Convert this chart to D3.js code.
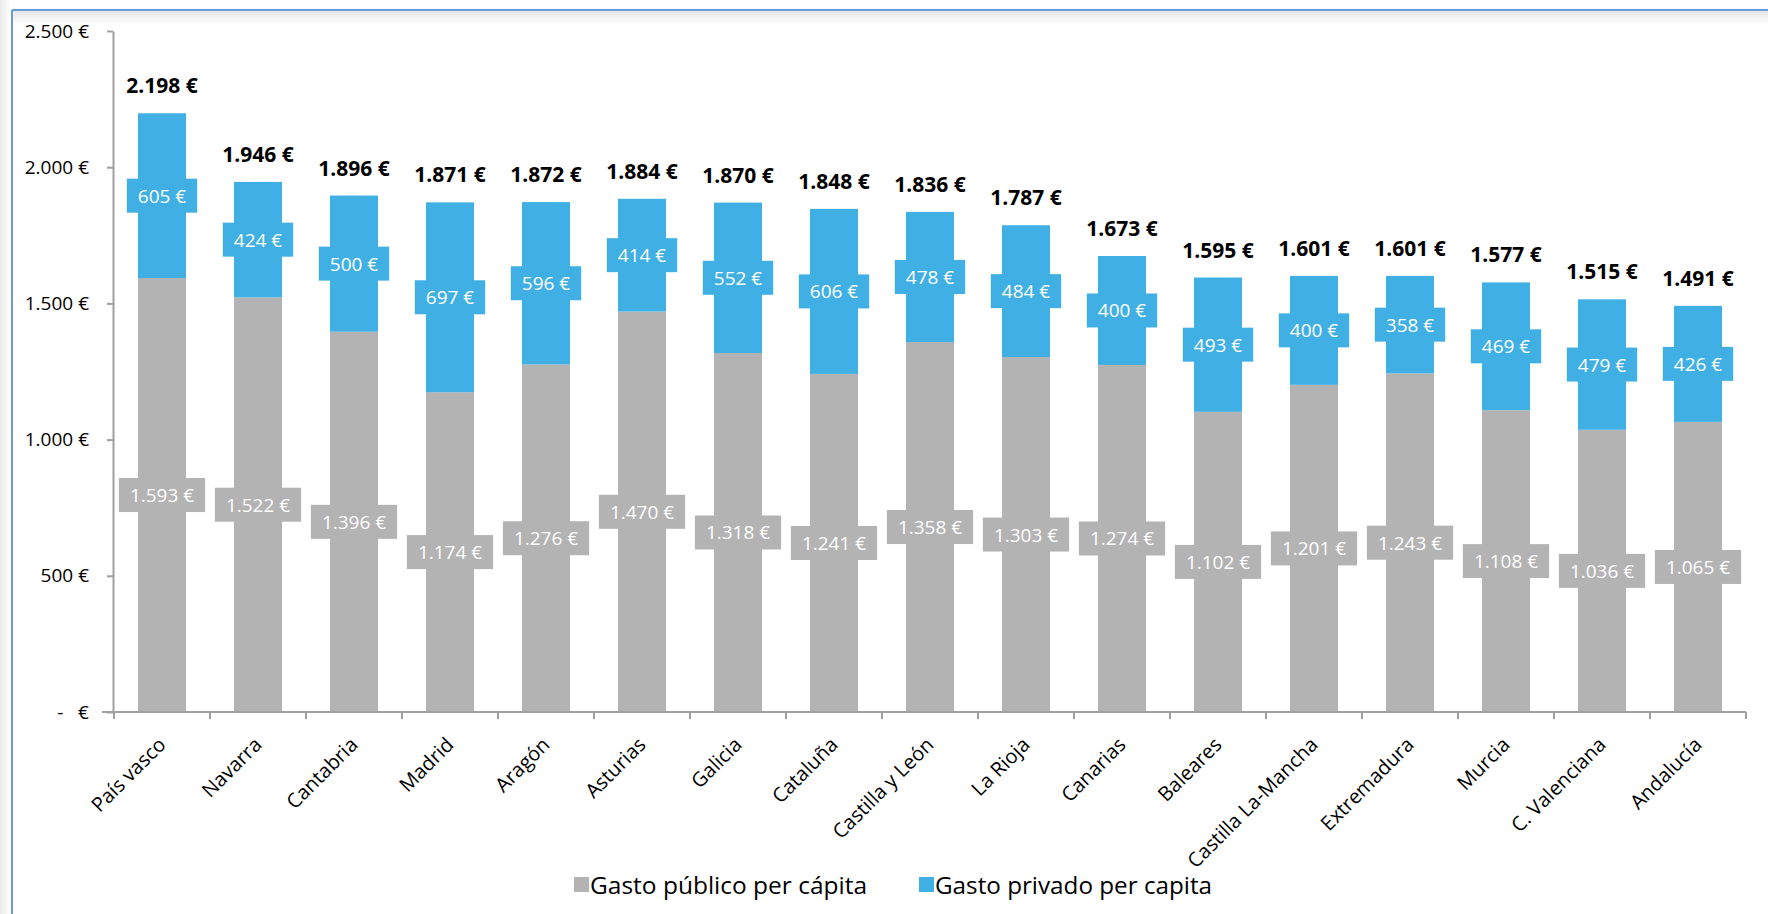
<!DOCTYPE html>
<html>
<head>
<meta charset="utf-8">
<script src="https://cdn.jsdelivr.net/npm/d3@7"></script>
<style>
  body { margin: 0; background: #fff; }
  svg { display: block; font-family: 'Open Sans', sans-serif; }
  text { white-space: pre; }
</style>
</head>
<body>
<script>
// data
const regiones = ['País vasco', 'Navarra', 'Cantabria', 'Madrid', 'Aragón', 'Asturias', 'Galicia', 'Cataluña',
  'Castilla y León', 'La Rioja', 'Canarias', 'Baleares', 'Castilla La-Mancha', 'Extremadura', 'Murcia',
  'C. Valenciana', 'Andalucía'];
const gastoPublico = [1593, 1522, 1396, 1174, 1276, 1470, 1318, 1241, 1358, 1303, 1274, 1102, 1201, 1243, 1108, 1036, 1065];
const gastoPrivado = [605, 424, 500, 697, 596, 414, 552, 606, 478, 484, 400, 493, 400, 358, 469, 479, 426];
const totales = [2198, 1946, 1896, 1871, 1872, 1884, 1870, 1848, 1836, 1787, 1673, 1595, 1601, 1601, 1577, 1515, 1491];
const yTicks = [0, 500, 1000, 1500, 2000, 2500];
const yTickLabels = ['-   €', '500 €', '1.000 €', '1.500 €', '2.000 €', '2.500 €'];
const series = ['Gasto público per cápita', 'Gasto privado per capita'];

const w = 1768, h = 914;
const gris = '#b3b3b3', azul = '#40b0e4', ejeColor = '#a0a0a0';

const euro = v => d3.format(',')(v).replace(/,/g, '.') + ' €';

const svg = d3.select('body').append('svg').attr('width', w).attr('height', h);

// frame with soft shadow at the top
const defs = svg.append('defs');
const grad = defs.append('linearGradient').attr('id', 'sombra').attr('x1', 0).attr('y1', 0).attr('x2', 0).attr('y2', 1);
grad.append('stop').attr('offset', 0).attr('stop-color', '#e6e6e6');
grad.append('stop').attr('offset', 1).attr('stop-color', '#ffffff');
const gradL = defs.append('linearGradient').attr('id', 'sombraL').attr('x1', 0).attr('y1', 0).attr('x2', 1).attr('y2', 0);
gradL.append('stop').attr('offset', 0).attr('stop-color', '#ececec');
gradL.append('stop').attr('offset', 1).attr('stop-color', '#ffffff');
svg.append('rect').attr('x', 13).attr('y', 11).attr('width', w - 13).attr('height', 14).attr('fill', 'url(#sombra)');
svg.append('rect').attr('x', 0).attr('y', 0).attr('width', 11).attr('height', h).attr('fill', 'url(#sombraL)');
svg.append('line').attr('x1', 12).attr('x2', w).attr('y1', 10).attr('y2', 10).attr('stroke', '#6b9bd6').attr('stroke-width', 2);
svg.append('line').attr('x1', 12).attr('x2', 12).attr('y1', 10).attr('y2', h).attr('stroke', '#6b9bd6').attr('stroke-width', 2);

const x = d3.scaleBand().domain(regiones).range([114, 1746]).paddingInner(0.5).paddingOuter(0.25);
const y = d3.scaleLinear().domain([0, 2500]).range([712, 31]);

// y axis
const yAxis = d3.axisLeft(y).tickValues(yTicks).tickFormat((d, i) => yTickLabels[i]).tickSize(6).tickSizeOuter(0);
const gy = svg.append('g').attr('transform', 'translate(113,0)').call(yAxis);
gy.select('.domain').attr('stroke', ejeColor).attr('stroke-width', 2);
gy.selectAll('.tick line').attr('stroke', ejeColor).attr('stroke-width', 2);
gy.selectAll('.tick text').attr('x', -24).attr('font-size', 19).attr('fill', '#000')
  .attr('font-family', "'Open Sans', sans-serif");

// bars
const filas = regiones.map((r, i) => ({ r, pub: gastoPublico[i], priv: gastoPrivado[i], total: totales[i] }));

svg.selectAll('rect.pub').data(filas).enter().append('rect')
  .attr('class', 'pub')
  .attr('x', d => x(d.r)).attr('width', x.bandwidth())
  .attr('y', d => y(d.pub)).attr('height', d => y(0) - y(d.pub))
  .attr('fill', gris);

svg.selectAll('rect.priv').data(filas).enter().append('rect')
  .attr('class', 'priv')
  .attr('x', d => x(d.r)).attr('width', x.bandwidth())
  .attr('y', d => y(d.pub + d.priv)).attr('height', d => y(d.pub) - y(d.pub + d.priv))
  .attr('fill', azul);

// x axis
const gx = svg.append('g').attr('transform', 'translate(0,712)');
gx.append('line').attr('x1', x.range()[0] - 12).attr('x2', x.range()[1]).attr('stroke', ejeColor).attr('stroke-width', 2);
d3.range(regiones.length + 1).forEach(i => {
  const xp = x.range()[0] + i * x.step();
  gx.append('line').attr('x1', xp).attr('x2', xp).attr('y1', 0).attr('y2', 7).attr('stroke', ejeColor).attr('stroke-width', 2);
});
gx.selectAll('text').data(regiones).enter().append('text')
  .attr('transform', d => 'translate(' + (x(d) + x.bandwidth() / 2 + 5) + ',34) rotate(-45)')
  .attr('text-anchor', 'end')
  .attr('font-size', 20)
  .attr('fill', '#000')
  .text(d => d);

// boxed value labels
function etiqueta(g, cx, cy, texto, color) {
  const t = g.append('text').attr('x', cx).attr('y', cy).attr('text-anchor', 'middle')
    .attr('dominant-baseline', 'central').attr('font-size', 19).attr('fill', '#fff').text(texto);
  const tw = t.node().getComputedTextLength();
  g.insert('rect', 'text').attr('x', cx - tw / 2 - 11).attr('y', cy - 17).attr('width', tw + 22).attr('height', 34)
    .attr('fill', color);
}

filas.forEach(d => {
  const cx = x(d.r) + x.bandwidth() / 2;
  etiqueta(svg.append('g'), cx, y(d.pub / 2), euro(d.pub), gris);
  etiqueta(svg.append('g'), cx, y(d.pub + d.priv / 2), euro(d.priv), azul);
  svg.append('text').attr('x', cx).attr('y', y(d.pub + d.priv) - 20)
    .attr('text-anchor', 'middle').attr('font-size', 21).attr('font-weight', 'bold').attr('fill', '#000')
    .text(euro(d.total));
});

// legend
const ley = svg.append('g');
const legX = [574, 919];
series.forEach((s, i) => {
  ley.append('rect').attr('x', legX[i]).attr('y', 877).attr('width', 15).attr('height', 15)
    .attr('fill', i === 0 ? gris : azul);
  ley.append('text').attr('x', legX[i] + 16).attr('y', 894)
    .attr('font-size', 23).attr('fill', '#000')
    .attr('textLength', 277).attr('lengthAdjust', 'spacingAndGlyphs')
    .text(s);
});
</script>
</body>
</html>
